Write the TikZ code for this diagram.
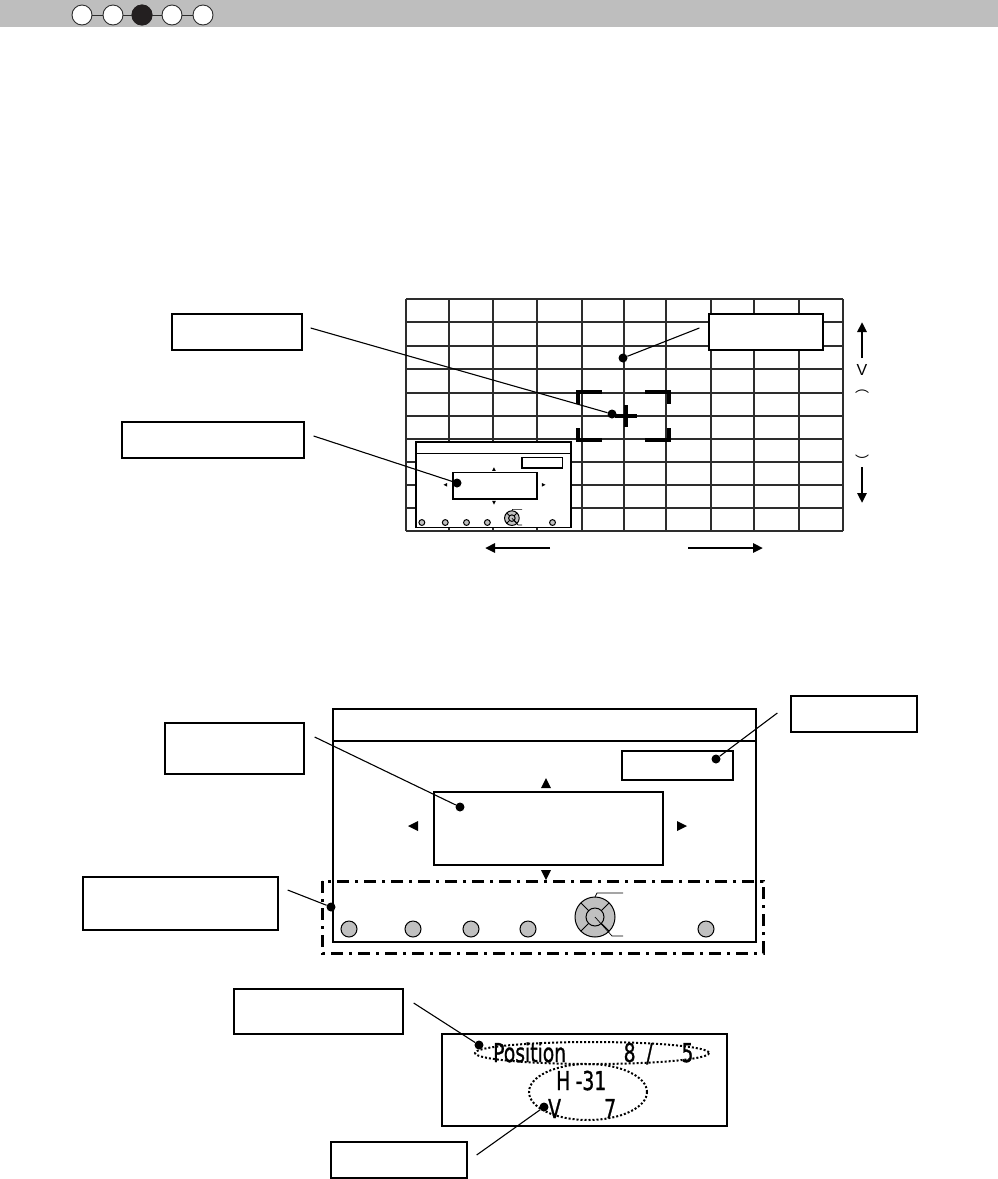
\documentclass[tikz,border=0pt]{standalone}
\usepackage{fontspec}
\setsansfont{Liberation Sans}
\newfontfamily\cjk{Noto Sans CJK JP}
\newfontfamily\readfont[FakeBold=1.2]{DejaVu Sans}
\usepackage{xcolor}
\usetikzlibrary{positioning,calc,arrows.meta}
\definecolor{bargray}{RGB}{190,190,190}
\definecolor{keygray}{RGB}{192,192,192}
\definecolor{gridgray}{RGB}{45,45,45}
\definecolor{nowdot}{RGB}{35,31,32}
\newcommand{\readout}[1]{\scalebox{0.72}[1]{\readfont\fontsize{26}{26}\selectfont #1}}

\begin{document}
\begin{tikzpicture}[
    x=1pt, y=-1pt,
    callout/.style={rectangle, draw, line width=1.3pt, fill=white, inner sep=0pt},
    pindot/.style={circle, fill, inner sep=0pt, minimum size=9pt},
    leader/.style={line width=1.1pt},
    stepdot/.style={circle, draw=gridgray, line width=0.9pt, fill=white, inner sep=0pt, minimum size=20pt},
    gridline/.style={draw=gridgray, line width=1.7pt},
    screen/.style={line width=1.5pt},
    keyring/.style={draw, line width=1pt, fill=keygray},
    bracket/.style={line width=4pt},
    guideframe/.style={line width=3pt, dash pattern=on 12pt off 6pt on 3pt off 6pt},
    dotline/.style={line width=2pt, dash pattern=on 2pt off 2pt},
    arrow/.style={line width=2.5pt,-{Triangle[length=10pt,width=9pt]}},
    osd/.pic={
        \draw[screen, fill=white] (0,0) rectangle (423,233);
        \draw[screen] (0,32) -- (423,32);
        \draw[screen] (289,42) rectangle (400,71);
        \draw[screen] (101,83) rectangle (330,156);
        \fill (213,69) -- (218,79) -- (208,79) -- cycle;
        \fill (213,171) -- (218,161) -- (208,161) -- cycle;
        \fill (75,117) -- (85,112) -- (85,122) -- cycle;
        \fill (354,117) -- (344,112) -- (344,122) -- cycle;
        \foreach \kx in {16,80,138,195,373}
            \draw[keyring] (\kx,220) circle (8);
        \draw[keyring] (262,208) circle (20);
        \draw[keyring] (262,208) circle (9);
        \foreach \a in {45,135,225,315}
            \draw[line width=0.8pt] ($(262,208)+(\a:9)$) -- ($(262,208)+(\a:20)$);
        \draw[line width=0.7pt] (262,188) -- (264,184) -- (290,184);
        \draw[line width=0.7pt] (262,208) -- (279,227) -- (290,227);
    }
]
\useasboundingbox (0,0) rectangle (998,1179);

% Header bar with step marks
\fill[bargray] (0,0) rectangle (998,27);
\foreach \i/\x in {1/82,2/113,3/142,4/172,5/203}
    \node[stepdot] (s\i) at (\x,15) {};
\node[stepdot, fill=nowdot, draw=nowdot] at (s3) {};
\draw[gridgray, line width=0.9pt] (s1) -- (s2);
\draw[gridgray, line width=0.9pt] (s2) -- (s3);
\draw[gridgray, line width=0.9pt] (s3) -- (s4);
\draw[gridgray, line width=0.9pt] (s4) -- (s5);

% Test pattern grid
\foreach \gx in {406,449,493,537,582,624,666,711,754,799,843}
    \draw[gridline] (\gx,299) -- (\gx,531);
\foreach \gy in {299,322,346,369,393,416,439,462,485,508,531}
    \draw[gridline] (406,\gy) -- (843,\gy);

% Target marks
\draw[bracket] (578,404) -- (578,392) -- (602,392);
\draw[bracket] (645,392) -- (669,392) -- (669,404);
\draw[bracket] (578,428) -- (578,440) -- (602,440);
\draw[bracket] (645,440) -- (669,440) -- (669,428);
\draw[bracket] (615,416) -- (637,416);
\draw[bracket] (626,405) -- (626,427);

% Small menu on the grid
\pic[shift={(416,442)}, scale=0.366] {osd};

% Dots on the grid
\node[pindot] (dotGrid) at (623,358) {};
\node[pindot] (dotCenter) at (612,414) {};
\node[pindot] (dotMenu) at (457,483) {};

% Labels for the grid
\node[callout, minimum width=130pt, minimum height=36pt] (lblCenter) at (237,332) {};
\node[callout, minimum width=182pt, minimum height=36pt] (lblMenu) at (213,440) {};
\node[callout, minimum width=114pt, minimum height=36pt] (lblGrid) at (766,332) {};

\draw[leader] ([xshift=8pt,yshift=4pt]lblCenter.east) -- (dotCenter);
\draw[leader] ([xshift=9pt,yshift=4pt]lblMenu.east) -- (dotMenu);
\draw[leader] ([xshift=-9pt,yshift=4pt]lblGrid.west) -- (dotGrid);

% Move directions
\coordinate (hL0) at (550,548);
\coordinate (hL1) at (485,548);
\coordinate (hR0) at (688,548);
\coordinate (hR1) at (763,548);
\coordinate (vU0) at (862,358);
\coordinate (vU1) at (862,322);
\coordinate (vD0) at (862,467);
\coordinate (vD1) at (862,503);
\draw[arrow] (hL0) -- (hL1);
\draw[arrow] (hR0) -- (hR1);
\draw[arrow] (vU0) -- (vU1);
\draw[arrow] (vD0) -- (vD1);
\node[font=\sffamily\fontsize{16}{16}\selectfont, inner sep=0pt] (vTag) at (862,370) {V};
\node[font=\cjk\fontsize{14}{14}\selectfont, inner sep=0pt] (vOpen) at (862,392) {︵};
\node[font=\cjk\fontsize{14}{14}\selectfont, inner sep=0pt] (vClose) at (862,461) {︶};

% Large menu
\pic[shift={(333,709)}] {osd};
\draw[guideframe] (322,881) rectangle (763,953);

\node[pindot] (dotImage) at (716,759) {};
\node[pindot] (dotMain) at (460,807) {};
\node[pindot] (dotGuide) at (331,907) {};

\node[callout, minimum width=126pt, minimum height=36pt] (lblImage) at (854,714) {};
\node[callout, minimum width=139pt, minimum height=51pt] (lblMain) at (234.5,748.5) {};
\node[callout, minimum width=195pt, minimum height=53pt] (lblGuide) at (180.5,903.5) {};

\draw[leader] ([xshift=-13pt,yshift=1pt]lblImage.west) -- (dotImage);
\draw[leader] ([xshift=10pt,yshift=11.5pt]lblMain.east) -- (dotMain);
\draw[leader] ([xshift=9pt,yshift=13.5pt]lblGuide.east) -- (dotGuide);

% Position readout
\draw[line width=2.5pt] (442,1034) rectangle (727,1126);
\node[anchor=base west, inner sep=0pt] (posLine) at (493,1062)
    {\readout{Position\hspace{80pt}8\hspace{15pt}/\hspace{40pt}5}};
\node[anchor=base west, inner sep=0pt] (hLine) at (556,1090)
    {\readout{H\hspace{7.5pt}-31}};
\node[anchor=base west, inner sep=0pt] (vLine) at (548,1118)
    {\readout{V\hspace{60pt}7}};
\draw[dotline] (592,1053) ellipse (117 and 11);
\draw[dotline] (588,1092) ellipse (59 and 28);

\node[pindot] (dotPos) at (479,1045) {};
\node[pindot] (dotHV) at (544,1107) {};

\node[callout, minimum width=169pt, minimum height=45pt] (lblPos) at (318.5,1011.5) {};
\node[callout, minimum width=136pt, minimum height=36pt] (lblHV) at (399,1160) {};

\draw[leader] ([xshift=10pt,yshift=8.5pt]lblPos.east) -- (dotPos);
\draw[leader] ([xshift=9pt,yshift=5pt]lblHV.east) -- (dotHV);

\end{tikzpicture}
\end{document}
